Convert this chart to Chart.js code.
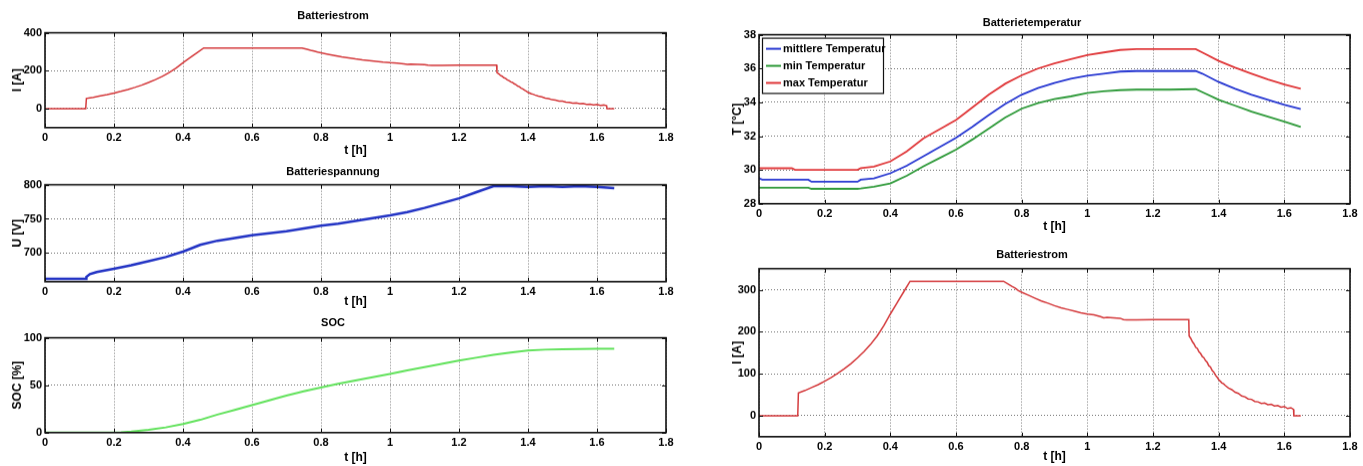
<!DOCTYPE html>
<html>
<head>
<meta charset="utf-8">
<script src="https://cdn.jsdelivr.net/npm/chart.js@4.4.1/dist/chart.umd.min.js"></script>
<style>
  html, body { margin: 0; padding: 0; background: #fff; width: 1363px; height: 466px; overflow: hidden; }
  canvas { position: absolute; }
</style>
</head>
<body>
<canvas id="strom1"></canvas>
<canvas id="spannung"></canvas>
<canvas id="soc"></canvas>
<canvas id="temperatur"></canvas>
<canvas id="strom2"></canvas>
<script>
/* ── Data ────────────────────────────────────────── */
const xTicks = [0, 0.2, 0.4, 0.6, 0.8, 1.0, 1.2, 1.4, 1.6, 1.8];

// Batteriestrom [A]
const tStrom = [
  0, 0.118, 0.12, 0.13, 0.14, 0.16, 0.18, 0.2, 0.22, 0.24, 0.26, 0.28, 0.3, 0.32, 0.34, 0.36, 0.38, 0.4, 0.42, 0.44, 0.46, 0.5, 0.55, 0.6, 0.65, 0.7, 0.745,
  0.76, 0.77, 0.78, 0.79, 0.8, 0.82, 0.84, 0.86, 0.88, 0.9, 0.92, 0.94, 0.96, 0.98, 1.0, 1.02, 1.04, 1.05, 1.06, 1.08, 1.1, 1.11, 1.12, 1.15, 1.2, 1.25, 1.3, 1.309,
  1.31, 1.315, 1.32, 1.325, 1.33, 1.335, 1.34, 1.345, 1.35, 1.355, 1.36, 1.365, 1.37, 1.375, 1.38, 1.385, 1.39, 1.395, 1.4, 1.405, 1.41, 1.415, 1.42, 1.43, 1.44,
  1.45, 1.46, 1.47, 1.48, 1.49, 1.5, 1.51, 1.52, 1.53, 1.54, 1.55, 1.56, 1.57, 1.58, 1.59, 1.6, 1.61, 1.62, 1.628, 1.629, 1.65
];
const strom = [
  0, 0, 54, 57, 60, 67, 74, 82, 91, 101, 112, 124, 138, 153, 170, 190, 214, 242, 268, 294, 320, 320, 320, 320, 320, 320, 320,
  313, 308, 304, 298, 294, 287, 280, 273, 268, 262, 257, 253, 249, 245, 242, 240, 236, 233, 234, 233, 232, 229, 228, 228, 229, 229, 229, 229,
  190, 184, 176, 171, 163, 160, 152, 148, 141, 138, 131, 127, 119, 116, 108, 104, 97, 92, 86, 82, 78, 76, 72, 66, 62,
  56, 53, 47, 45, 40, 39, 34, 33, 29, 30, 26, 27, 23, 24, 20, 22, 17, 19, 15, 0, 0
];

// Batteriespannung [V]
const tSpannung = [0, 0.05, 0.1, 0.119, 0.12, 0.13, 0.15, 0.2, 0.25, 0.3, 0.35, 0.4, 0.45, 0.5, 0.55, 0.6, 0.65, 0.7, 0.75,
  0.8, 0.85, 0.9, 0.95, 1.0, 1.05, 1.1, 1.15, 1.2, 1.25, 1.3, 1.35, 1.4, 1.45, 1.5, 1.55, 1.6, 1.65];
const spannung = [662, 662, 662, 662, 665, 669, 672, 677, 682, 688, 694, 702, 712, 718, 722, 726, 729, 732, 736,
  740, 743, 747, 751, 755, 760, 766, 773, 780, 789, 798, 798, 797, 798, 797, 798, 797, 795];

// SOC [%]
const tSoc = [0, 0.2, 0.22, 0.25, 0.3, 0.35, 0.4, 0.45, 0.5, 0.55, 0.6, 0.65, 0.7, 0.75, 0.8, 0.85, 0.9, 0.95, 1.0,
  1.05, 1.1, 1.15, 1.2, 1.25, 1.3, 1.35, 1.4, 1.45, 1.5, 1.55, 1.6, 1.65];
const soc = [0, 0, 0.3, 1, 3, 5.5, 9, 13.5, 19, 24, 29, 34, 39, 43.5, 47.5, 51.5, 55, 58.5, 62,
  65.5, 69, 72.5, 76, 79, 82, 84.5, 86.5, 87.5, 88, 88.2, 88.3, 88.3];

// Batterietemperatur [°C]
const tTemp = [0, 0.01, 0.1, 0.11, 0.15, 0.16, 0.3, 0.31, 0.35, 0.4, 0.45, 0.5, 0.55, 0.6, 0.65, 0.7, 0.75, 0.8,
  0.85, 0.9, 0.95, 1.0, 1.05, 1.1, 1.15, 1.2, 1.25, 1.33, 1.35, 1.4, 1.45, 1.5, 1.55, 1.6, 1.65];
const tempMittel = [29.5, 29.42, 29.42, 29.42, 29.42, 29.3, 29.3, 29.42, 29.5, 29.8, 30.25, 30.8, 31.35, 31.9, 32.55, 33.25, 33.9, 34.45,
  34.85, 35.15, 35.4, 35.58, 35.7, 35.82, 35.85, 35.85, 35.85, 35.85, 35.7, 35.2, 34.8, 34.45, 34.15, 33.85, 33.6];
const tempMin = [28.95, 28.95, 28.95, 28.95, 28.95, 28.88, 28.88, 28.9, 29.0, 29.2, 29.65, 30.2, 30.7, 31.2, 31.8, 32.45, 33.1, 33.62,
  33.95, 34.2, 34.35, 34.55, 34.65, 34.72, 34.75, 34.75, 34.75, 34.78, 34.6, 34.15, 33.8, 33.45, 33.15, 32.85, 32.55];
const tempMax = [30.1, 30.1, 30.1, 30.0, 30.0, 30.0, 30.0, 30.1, 30.2, 30.5, 31.1, 31.85, 32.4, 32.95, 33.7, 34.45, 35.1, 35.6,
  36.0, 36.3, 36.55, 36.8, 36.95, 37.1, 37.15, 37.15, 37.15, 37.15, 36.95, 36.45, 36.05, 35.7, 35.35, 35.05, 34.8];

const yTicksStrom1 = [0, 200, 400];
const yTicksSpannung = [700, 750, 800];
const yTicksSoc = [0, 50, 100];
const yTicksTemp = [28, 30, 32, 34, 36, 38];
const yTicksStrom2 = [0, 100, 200, 300];

/* ── Style helpers ───────────────────────────────── */
const FONT = '"Liberation Sans Narrow", "Liberation Sans", Arial, sans-serif';
const Y_W = 45;      // width reserved for y labels + title
const RIGHT_PAD = 12;

const pts = (xs, ys) => xs.map((x, i) => ({ x, y: ys[i] }));
const line = (label, xs, ys, color, width) => ({
  label, data: pts(xs, ys), borderColor: color, backgroundColor: color,
  borderWidth: width, pointRadius: 0, tension: 0, fill: false
});

/* MATLAB-like box with inward tick marks */
const matlabBox = {
  id: "matlabBox",
  afterDatasetsDraw(chart) {
    const { ctx, chartArea: a, scales: { x, y } } = chart;
    ctx.save();
    ctx.strokeStyle = "#111";
    ctx.lineWidth = 1;
    ctx.beginPath();
    x.ticks.forEach(t => {
      const px = Math.round(x.getPixelForValue(t.value)) + 0.5;
      ctx.moveTo(px, a.bottom); ctx.lineTo(px, a.bottom - 4);
      ctx.moveTo(px, a.top);    ctx.lineTo(px, a.top + 4);
    });
    y.ticks.forEach(t => {
      const py = Math.round(y.getPixelForValue(t.value)) + 0.5;
      ctx.moveTo(a.left, py);  ctx.lineTo(a.left + 4, py);
      ctx.moveTo(a.right, py); ctx.lineTo(a.right - 4, py);
    });
    ctx.stroke();
    ctx.lineWidth = 1.6;
    ctx.strokeRect(a.left, a.top, a.right - a.left, a.bottom - a.top);
    ctx.restore();
  }
};

/* Legend box inside the plot, top-left */
const insetLegend = {
  id: "insetLegend",
  afterDraw(chart) {
    const { ctx, chartArea: a } = chart;
    const x0 = a.left + 3, y0 = a.top + 3, w = 121, h = 55, rowH = 17;
    ctx.save();
    ctx.fillStyle = "#fff";
    ctx.fillRect(x0, y0, w, h);
    ctx.strokeStyle = "#111";
    ctx.lineWidth = 1.2;
    ctx.strokeRect(x0 + 0.5, y0 + 0.5, w, h);
    ctx.font = "bold 11px " + FONT;
    ctx.textBaseline = "middle";
    chart.data.datasets.forEach((ds, i) => {
      const cy = y0 + 11 + i * rowH;
      ctx.strokeStyle = ds.borderColor;
      ctx.lineWidth = 2;
      ctx.beginPath(); ctx.moveTo(x0 + 4, cy); ctx.lineTo(x0 + 19, cy); ctx.stroke();
      ctx.fillStyle = "#000";
      ctx.fillText(ds.label, x0 + 21, cy);
    });
    ctx.restore();
  }
};

/* ── Chart factory ───────────────────────────────── */
function makePlot(id, box, cfg) {
  const canvas = document.getElementById(id);
  const titleH = (box.t - box.titleY) + 6.6;          // 11px font, lineHeight 13.2
  const xH = (box.xTitleY - box.b) + 7.2;             // 12px font, lineHeight 14.4
  const w = (box.r - box.l) + Y_W + RIGHT_PAD;
  const h = titleH + (box.b - box.t) + xH;
  canvas.width = w; canvas.height = h;
  canvas.style.width = w + "px"; canvas.style.height = h + "px";
  canvas.style.left = (box.l - Y_W) + "px";
  canvas.style.top = (box.t - titleH) + "px";

  const grid = { color: "rgba(0,0,0,0.55)", lineWidth: 1, drawTicks: false };
  const border = { display: false, dash: [1, 2] };
  const tickFont = { family: FONT, size: 11, weight: "bold" };

  return new Chart(canvas, {
    type: "line",
    data: { datasets: cfg.datasets },
    options: {
      responsive: false,
      animation: false,
      layout: { padding: { left: 0, right: RIGHT_PAD, top: 0, bottom: 0 } },
      plugins: {
        legend: { display: false },
        tooltip: { enabled: false },
        title: {
          display: true, text: cfg.title, color: "#000",
          font: { family: FONT, size: 11, weight: "bold" },
          padding: { top: 0, bottom: titleH - 13.2 }
        }
      },
      scales: {
        x: {
          type: "linear", min: 0, max: 1.8,
          afterBuildTicks: s => { s.ticks = xTicks.map(v => ({ value: v })); },
          afterFit: s => { s.height = xH; },
          ticks: { color: "#000", font: tickFont, padding: 4, callback: v => String(+v.toFixed(1)) },
          grid, border,
          title: { display: true, text: "t [h]", color: "#000", font: { family: FONT, size: 12, weight: "bold" }, padding: 0 }
        },
        y: {
          type: "linear", min: cfg.yMin, max: cfg.yMax,
          afterBuildTicks: s => { s.ticks = cfg.yTicks.map(v => ({ value: v })); },
          afterFit: s => { s.width = Y_W; },
          ticks: { color: "#000", font: tickFont, padding: 3 },
          grid, border,
          title: { display: true, text: cfg.yLabel, color: "#000", font: { family: FONT, size: 12, weight: "bold" },
                   padding: { top: cfg.yTitlePad, bottom: 0 } }
        }
      }
    },
    plugins: cfg.legend ? [matlabBox, insetLegend] : [matlabBox]
  });
}

const RED = "#d43a3c";

makePlot("strom1", { l: 45, t: 33, r: 666, b: 128, titleY: 16, xTitleY: 151 }, {
  title: "Batteriestrom", yLabel: "I [A]", yMin: -100, yMax: 400, yTicks: yTicksStrom1, yTitlePad: 10,
  datasets: [line("Batteriestrom", tStrom, strom, RED, 1.5)]
});

makePlot("spannung", { l: 45, t: 185, r: 666, b: 282, titleY: 172, xTitleY: 302 }, {
  title: "Batteriespannung", yLabel: "U [V]", yMin: 658, yMax: 800, yTicks: yTicksSpannung, yTitlePad: 10,
  datasets: [line("Batteriespannung", tSpannung, spannung, "#2233c4", 2.5)]
});

makePlot("soc", { l: 45, t: 338, r: 666, b: 433, titleY: 323, xTitleY: 458 }, {
  title: "SOC", yLabel: "SOC [%]", yMin: 0, yMax: 100, yTicks: yTicksSoc, yTitlePad: 10,
  datasets: [line("SOC", tSoc, soc, "#62e25c", 2)]
});

makePlot("temperatur", { l: 759, t: 35, r: 1350, b: 204, titleY: 23, xTitleY: 227 }, {
  title: "Batterietemperatur", yLabel: "T [°C]", yMin: 28, yMax: 38, yTicks: yTicksTemp, yTitlePad: 16, legend: true,
  datasets: [
    line("mittlere Temperatur", tTemp, tempMittel, "#2a3ad2", 1.8),
    line("min Temperatur", tTemp, tempMin, "#2f9a3a", 1.8),
    line("max Temperatur", tTemp, tempMax, "#e03a3c", 1.8)
  ]
});

makePlot("strom2", { l: 759, t: 269, r: 1350, b: 437, titleY: 255, xTitleY: 457 }, {
  title: "Batteriestrom", yLabel: "I [A]", yMin: -50, yMax: 350, yTicks: yTicksStrom2, yTitlePad: 16,
  datasets: [line("Batteriestrom", tStrom, strom, RED, 1.5)]
});
</script>
</body>
</html>
